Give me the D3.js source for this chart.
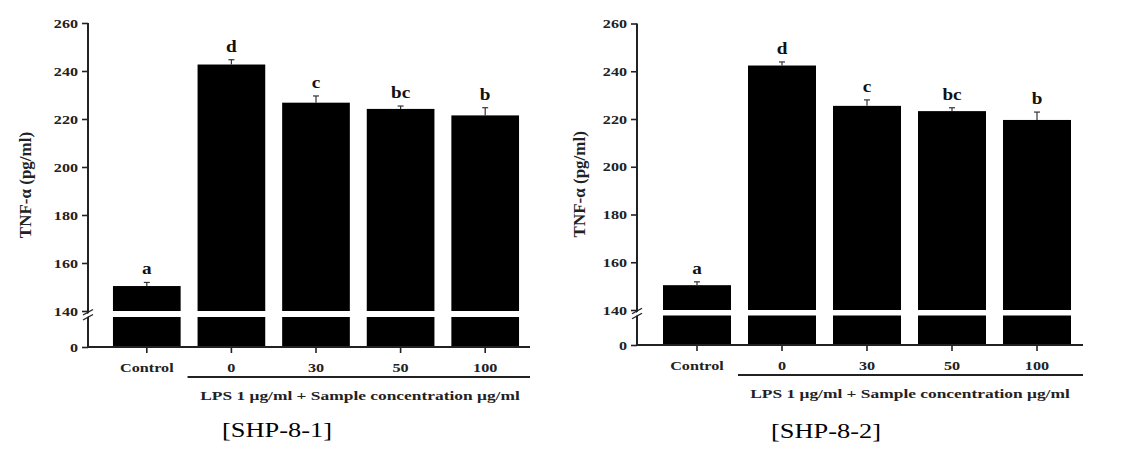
<!DOCTYPE html>
<html><head><meta charset="utf-8">
<script src="https://cdn.jsdelivr.net/npm/d3@7"></script>
<style>body{margin:0;background:#fff}svg{display:block}</style>
</head><body>
<svg id="chart" width="1124" height="451"></svg>
<script>
// ---- data ----
const categories = ["Control", "0", "30", "50", "100"];
const upperTicks = [140, 160, 180, 200, 220, 240, 260];
const lowerTicks = [0];
const means1 = [150.4, 242.7, 226.8, 224.2, 221.5];
const errors1 = [1.5, 2.0, 2.8, 1.2, 3.2];
const letters1 = ["a", "d", "c", "bc", "b"];
const means2 = [150.4, 242.4, 225.5, 223.3, 219.6];
const errors2 = [1.4, 1.5, 2.5, 1.4, 3.3];
const letters2 = ["a", "d", "c", "bc", "b"];
const yLabel = "TNF-\u03b1 (pg/ml)";
const groupLabel = "LPS 1 \u03bcg/ml + Sample concentration \u03bcg/ml";
const captions = ["[SHP-8-1]", "[SHP-8-2]"];

const svg = d3.select("#chart");
const FONT = "'Liberation Serif','Times New Roman',serif";
const INK = "#111";

function panel(cfg, means, errors, letters, caption) {
  const g = svg.append("g");
  const yU = d3.scaleLinear().domain([140, 260]).range([cfg.y140, cfg.top]);
  const yL = d3.scaleLinear().domain([0, 140]).range([cfg.y0, cfg.lowerTop]);
  const x = d3.scaleBand().domain(categories).range(cfg.band).paddingInner(0.2).paddingOuter(0.1);
  const bw = x.bandwidth();

  g.selectAll(".barL").data(means).join("rect")
    .attr("x", (d, i) => x(categories[i])).attr("width", bw)
    .attr("y", d => yL(Math.min(d, 140))).attr("height", d => yL(0) - yL(Math.min(d, 140)))
    .attr("fill", "#000");
  g.selectAll(".barU").data(means).join("rect")
    .attr("x", (d, i) => x(categories[i])).attr("width", bw)
    .attr("y", d => yU(d)).attr("height", d => yU(140) - yU(d))
    .attr("fill", "#000");

  means.forEach((m, i) => {
    const cx = x(categories[i]) + bw / 2;
    const top = yU(m + errors[i]);
    g.append("line").attr("x1", cx).attr("x2", cx).attr("y1", yU(m)).attr("y2", top)
      .attr("stroke", "#333").attr("stroke-width", 1.2);
    g.append("line").attr("x1", cx - 3).attr("x2", cx + 3).attr("y1", top).attr("y2", top)
      .attr("stroke", "#333").attr("stroke-width", 1.2);
    g.append("text").attr("transform", `translate(${cx},${top - 8}) scale(1.2,1)`)
      .attr("text-anchor", "middle").attr("font-family", FONT).attr("font-weight", "bold")
      .attr("font-size", 16).attr("fill", INK).text(letters[i]);
  });

  const axU = d3.axisLeft(yU).tickValues(upperTicks).tickSize(6).tickPadding(4).tickFormat(d3.format("d"));
  const axL = d3.axisLeft(yL).tickValues(lowerTicks).tickSize(6).tickPadding(4).tickFormat(d3.format("d"));
  [axU, axL].forEach(ax => {
    const a = g.append("g").attr("transform", `translate(${cfg.axisX},0)`).call(ax);
    a.select(".domain").remove();
    a.selectAll(".tick line").attr("stroke", "#222").attr("stroke-width", 1.6);
    a.selectAll(".tick text").each(function () {
      const t = d3.select(this);
      const xx = +t.attr("x");
      t.attr("x", null).attr("dy", null)
        .attr("transform", `translate(${xx},4) scale(1.4,1)`);
    }).attr("font-family", FONT).attr("font-weight", "bold").attr("font-size", 11.5).attr("fill", "#222");
  });
  g.append("line").attr("x1", cfg.axisX).attr("x2", cfg.axisX).attr("y1", cfg.top).attr("y2", cfg.y0)
    .attr("stroke", "#222").attr("stroke-width", 2);
  const bm = (cfg.y140 + cfg.lowerTop) / 2;
  g.append("polygon")
    .attr("points", `${cfg.axisX - 4},${bm + 2} ${cfg.axisX + 4},${bm - 3} ${cfg.axisX + 4},${bm + 0} ${cfg.axisX - 4},${bm + 5}`)
    .attr("fill", "#fff");
  [[-1.5], [3.5]].forEach(([o]) => {
    g.append("line").attr("x1", cfg.axisX - 5).attr("y1", bm + o + 2.5).attr("x2", cfg.axisX + 5).attr("y2", bm + o - 3)
      .attr("stroke", "#222").attr("stroke-width", 1.4);
  });

  const axX = d3.axisBottom(x).tickSize(6).tickPadding(9);
  const xa = g.append("g").attr("transform", `translate(0,${cfg.y0})`).call(axX);
  xa.select(".domain").remove();
  xa.selectAll(".tick line").attr("stroke", "#222").attr("stroke-width", 1.6);
  xa.selectAll(".tick text").each(function () {
    const t = d3.select(this);
    const yy = +t.attr("y");
    t.attr("y", null).attr("dy", null).attr("transform", `translate(0,${yy + 10}) scale(1.35,1)`);
  }).attr("font-family", FONT).attr("font-weight", "bold").attr("font-size", 12).attr("fill", "#222");
  g.append("line").attr("x1", cfg.axisX).attr("x2", cfg.axisEnd).attr("y1", cfg.y0).attr("y2", cfg.y0)
    .attr("stroke", "#222").attr("stroke-width", 2);

  g.append("line").attr("x1", x(categories[1]) - 10).attr("x2", cfg.axisEnd).attr("y1", cfg.under).attr("y2", cfg.under)
    .attr("stroke", "#222").attr("stroke-width", 2.2);
  g.append("text").attr("transform", `translate(${cfg.lpsX},${cfg.lpsY}) scale(1.45,1)`)
    .attr("text-anchor", "middle").attr("font-family", FONT).attr("font-weight", "bold")
    .attr("font-size", 12).attr("fill", "#222").text(groupLabel);

  g.append("text").attr("transform", `translate(${cfg.labelX},${(cfg.top + cfg.y0) / 2}) rotate(-90)`)
    .attr("text-anchor", "middle").attr("font-family", FONT).attr("font-weight", "bold")
    .attr("font-size", 17).attr("fill", "#222").text(yLabel);

  g.append("text").attr("transform", `translate(${cfg.capX},${cfg.capY}) scale(1.2,1)`)
    .attr("text-anchor", "middle").attr("font-family", FONT)
    .attr("font-size", 22).attr("fill", "#000").text(caption);
}

panel({axisX: 88, top: 23, y140: 311, lowerTop: 317, y0: 347, band: [104.5, 527.5], axisEnd: 530,
       under: 377, lpsX: 360, lpsY: 400, capX: 277, capY: 437, labelX: 31},
      means1, errors1, letters1, captions[0]);
panel({axisX: 637, top: 23.5, y140: 310, lowerTop: 315.5, y0: 345, band: [654.5, 1079.5], axisEnd: 1083,
       under: 375, lpsX: 910, lpsY: 398, capX: 826, capY: 438, labelX: 585},
      means2, errors2, letters2, captions[1]);
</script>
</body></html>
